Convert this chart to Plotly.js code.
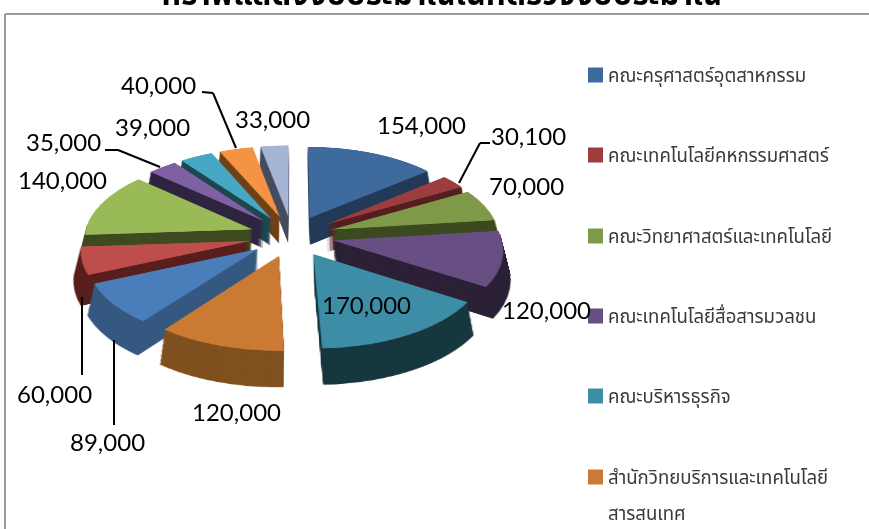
<!DOCTYPE html>
<html><head><meta charset="utf-8">
<script src="https://cdn.plot.ly/plotly-3.0.1.min.js"></script>
<style>
html,body{margin:0;padding:0;width:869px;height:529px;overflow:hidden;background:#fff}
#pie{position:absolute;left:-108px;top:-164px;width:800px;height:800px;transform-origin:50% 50%;transform:perspective(1500px) rotateX(61deg)}
#over{position:absolute;left:0;top:0;width:869px;height:529px}
#over .gtitle{transform:translateY(-6px)}
</style></head><body>
<div id="pie"></div><div id="over"></div>
<script>
const titleText = "กราฟแสดงงบประมาณในที่ตรวจงบประมาณ";
const categories = ["คณะครุศาสตร์อุตสาหกรรม","คณะเทคโนโลยีคหกรรมศาสตร์","คณะวิทยาศาสตร์และเทคโนโลยี","คณะเทคโนโลยีสื่อสารมวลชน","คณะบริหารธุรกิจ","สำนักวิทยบริการและเทคโนโลยี"];
const categoryWrap = "สารสนเทศ";
const sliceIds = ["1","2","3","4","5","6","7","8","9","10","11","12","13"];
const values = [154000,30100,70000,120000,170000,120000,89000,60000,140000,35000,39000,40000,33000];
const topColors = ["#3e6a9e","#9c3d3e","#7e9a49","#674f84","#3e8da7","#cb7a34","#4a7ebb","#bd4e4c","#99ba57","#7f60a3","#46a7c4","#f39343","#a5b5d6"];
const sideColors = ["#223a58","#561f1f","#3c4a1f","#2b2036","#17373f","#80501f","#34587f","#581f1e","#3e4a20","#2f2440","#1d4750","#6f4218","#454d5e"];
const labelX = [421,528,526,546,366,237,107,54,62,63,152,158,272];
const labelY = [124,135,185,309,304,411,441,393,179,141,126,85,118];
const leaders = [
  [[459,183],[480,143],[490,143]],
  [[236,148],[213,93],[202,92]],
  [[160,167],[118,150],[105,150]],
  [[82,297],[82,375]],
  [[114,340],[114,425]]
];
const legendY = [75,155,236,316,396,477];
const wrapY = 514;

const pull = 0.25, side = 420, S = 800, layers = 28, step = 2;
const pies = [];
function pieTrace(dy, colors){
  return {type:'pie', labels:sliceIds, values:values, sort:false, direction:'clockwise', rotation:0,
    pull:values.map(()=>pull), textinfo:'none', hoverinfo:'skip', showlegend:false,
    marker:{colors:colors, line:{width:0}},
    domain:{x:[(S-side)/2/S,(S+side)/2/S], y:[((S-side)/2-dy)/S,((S+side)/2-dy)/S]}};
}
for(let k=layers;k>=1;k--) pies.push(pieTrace(k*step, sideColors));
pies.push(pieTrace(0, topColors));
Plotly.newPlot('pie', pies, {width:S,height:S,margin:{l:0,r:0,t:0,b:0},paper_bgcolor:'rgba(0,0,0,0)',showlegend:false},{displayModeBar:false,staticPlot:true});

const num = '"Lato","Carlito","Liberation Sans",sans-serif';
const thai = '"Noto Sans Thai","Noto Sans","Liberation Sans",sans-serif';
const annotations = values.map((v,i)=>({xref:'paper',yref:'paper',x:labelX[i]/869,y:1-labelY[i]/529,
  text:v.toLocaleString('en-US'),showarrow:false,xanchor:'center',yanchor:'middle',font:{family:num,size:24,color:'#000'}}));
const shapes = [
  {type:'line',xref:'paper',yref:'paper',x0:5/869,x1:5/869,y0:0,y1:1-14/529,line:{color:'#9a9a9a',width:2}},
  {type:'line',xref:'paper',yref:'paper',x0:5/869,x1:1,y0:1-14/529,y1:1-14/529,line:{color:'#9a9a9a',width:2}}
];
leaders.forEach(pts=>{
  for(let i=0;i<pts.length-1;i++) shapes.push({type:'line',xref:'paper',yref:'paper',
    x0:pts[i][0]/869,y0:1-pts[i][1]/529,x1:pts[i+1][0]/869,y1:1-pts[i+1][1]/529,line:{color:'#000',width:2}});
});
function legendText(t,yc){
  annotations.push({xref:'paper',yref:'paper',x:606/869,y:1-yc/529,text:t,showarrow:false,xanchor:'left',yanchor:'middle',align:'left',
    font:{family:thai,size:18.6,color:'#3a3a3a'}});
}
categories.forEach((c,i)=>{
  shapes.push({type:'rect',xref:'paper',yref:'paper',x0:588/869,x1:603/869,y0:1-(legendY[i]+7.5)/529,y1:1-(legendY[i]-7.5)/529,fillcolor:topColors[i],line:{width:0}});
  legendText(c,legendY[i]+1);
});
legendText(categoryWrap,wrapY);
Plotly.newPlot('over', [], {width:869,height:529,margin:{l:0,r:0,t:0,b:0},paper_bgcolor:'rgba(0,0,0,0)',plot_bgcolor:'rgba(0,0,0,0)',
  xaxis:{visible:false},yaxis:{visible:false},
  title:{text:'<b>'+titleText+'</b>',x:442/869,xanchor:'center',y:1,yanchor:'middle',font:{family:thai,size:31,color:'#000'}},
  annotations:annotations,shapes:shapes},{displayModeBar:false,staticPlot:true});
</script></body></html>
